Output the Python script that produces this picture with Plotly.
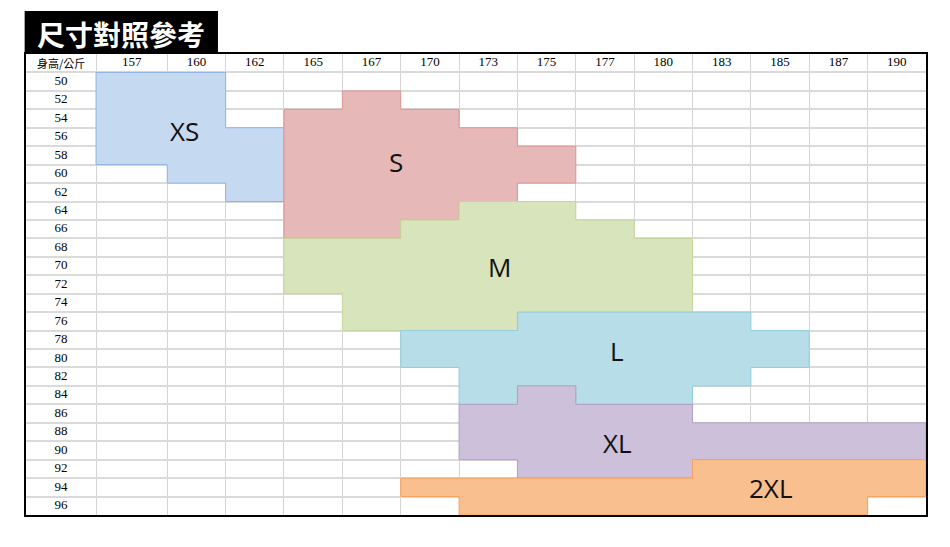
import plotly.graph_objects as go

# Table axes: heights (columns) and weights (rows)
heights = ["157", "160", "162", "165", "167", "170", "173", "175",
           "177", "180", "183", "185", "187", "190"]
weights = list(range(50, 97, 2))
corner_label = "身高/公斤"
title_text = "尺寸對照參考"

# Weight span (min kg, max kg) recommended for each size at each height
XS = {"157": (50, 58), "160": (50, 60), "162": (56, 62)}
S = {"165": (54, 66), "167": (52, 66), "170": (54, 64), "173": (56, 62),
     "175": (58, 60)}
M = {"165": (68, 72), "167": (68, 76), "170": (66, 76), "173": (64, 76),
     "175": (64, 74), "177": (66, 74), "180": (68, 74)}
L = {"170": (78, 80), "173": (78, 84), "175": (76, 82), "177": (76, 84),
     "180": (76, 84), "183": (76, 82), "185": (78, 80)}
XL = {"173": (86, 90), "175": (84, 92), "177": (86, 92), "180": (86, 92),
      "183": (88, 90), "185": (88, 90), "187": (88, 90), "190": (88, 90)}
XXL = {"170": (94, 94), "173": (94, 96), "175": (94, 96), "177": (94, 96),
       "180": (94, 96), "183": (92, 96), "185": (92, 96), "187": (92, 96),
       "190": (92, 94)}

sizes = [
    # name, spans, fill, outline, label position (x units, row units)
    ("XS", XS, "#c5d9f1", "#8db4e2", (2.72, 4.18)),
    ("S", S, "#e6b8b7", "#da9694", (6.34, 5.86)),
    ("M", M, "#d8e4bc", "#c4d79b", (8.12, 11.55)),
    ("L", L, "#b7dee8", "#92cddc", (10.12, 16.10)),
    ("XL", XL, "#ccc0da", "#b1a0c7", (10.14, 21.10)),
    ("2XL", XXL, "#fabf8f", "#f7a35c", (12.75, 23.54)),
]

# Column widths in table units: label column, first height column, the rest
col_widths = [1.2, 1.22] + [1.0] * (len(heights) - 1)
edges = [0.0]
for w in col_widths:
    edges.append(edges[-1] + w)
n_rows = len(weights) + 1  # header + weights


def row_of(w):
    return (w - weights[0]) // 2 + 1


fig = go.Figure()

# Size regions as stepped polygons
for name, spans, fill, outline, (lx, ly) in sizes:
    cols = sorted(spans, key=lambda h: heights.index(h))
    xs, ys = [], []
    for h in cols:
        c = heights.index(h) + 1
        top = row_of(spans[h][0])
        xs += [edges[c], edges[c + 1]]
        ys += [top, top]
    for h in reversed(cols):
        c = heights.index(h) + 1
        bot = row_of(spans[h][1]) + 1
        xs += [edges[c + 1], edges[c]]
        ys += [bot, bot]
    xs.append(xs[0])
    ys.append(ys[0])
    fig.add_trace(go.Scatter(
        x=xs, y=ys, mode="lines", fill="toself", fillcolor=fill,
        line=dict(color=outline, width=1), hoverinfo="skip",
        showlegend=False))
    fig.add_annotation(x=lx, y=ly, text=name, showarrow=False,
                       font=dict(family="Open Sans", size=26, color="#111111"))

# Header row and weight column text
centers = [(edges[i] + edges[i + 1]) / 2 for i in range(len(edges) - 1)]
fig.add_trace(go.Scatter(
    x=centers[1:], y=[0.5] * len(heights), mode="text", text=heights,
    textfont=dict(family="Liberation Serif", size=13, color="#000000"),
    hoverinfo="skip", showlegend=False))
fig.add_trace(go.Scatter(
    x=[centers[0]] * len(weights), y=[r + 0.5 for r in range(1, n_rows)],
    mode="text", text=[str(w) for w in weights],
    textfont=dict(family="Liberation Serif", size=13, color="#000000"),
    hoverinfo="skip", showlegend=False))
fig.add_annotation(x=centers[0], y=0.5, text=corner_label, showarrow=False,
                   font=dict(family="Noto Sans CJK TC", size=11, color="#000000"))

# Black title tab above the table
fig.add_shape(type="rect", xref="paper", yref="paper",
              x0=-0.0015, x1=0.2133, y0=1.0, y1=1.0933,
              fillcolor="black", line=dict(width=0))
fig.add_annotation(xref="paper", yref="paper", x=0.1061, y=1.044,
                   xanchor="center", yanchor="middle",
                   text=title_text, showarrow=False,
                   font=dict(family="Noto Sans CJK TC", size=28, color="white",
                             weight="bold"))

fig.update_xaxes(range=[edges[0], edges[-1]], tickvals=edges,
                 showticklabels=False, ticks="", showgrid=True,
                 gridcolor="#d4d4d4", gridwidth=1, zeroline=False,
                 showline=True, linecolor="black", linewidth=2, mirror=True)
fig.update_yaxes(range=[n_rows, 0], tickvals=list(range(n_rows + 1)),
                 showticklabels=False, ticks="", showgrid=True,
                 gridcolor="#dadada", gridwidth=1.5, zeroline=False,
                 showline=True, linecolor="black", linewidth=2, mirror=True)

fig.update_layout(
    width=950, height=547,
    margin=dict(l=26, r=24, t=54, b=32),
    plot_bgcolor="white", paper_bgcolor="white",
)

fig.write_html("out.html")
